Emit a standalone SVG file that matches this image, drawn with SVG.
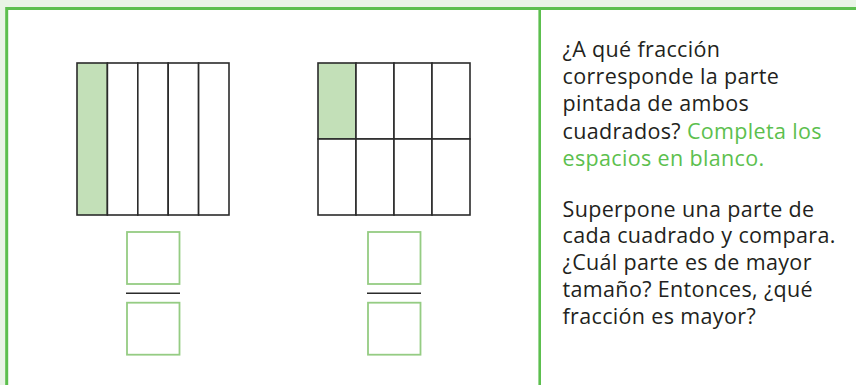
<svg xmlns="http://www.w3.org/2000/svg" width="856" height="385" viewBox="0 0 856 385">
  <style>
    .cell{fill:#ffffff;stroke:#2b2b2b;stroke-width:1.6}
    .shade{fill:#c3e0b8;stroke:#2b2b2b;stroke-width:1.6}
    .box{fill:#ffffff;stroke:#95cc83;stroke-width:1.8}
    .bar{stroke:#2b2b2b;stroke-width:1.6}
    .txt{font-family:"Open Sans","Noto Sans",sans-serif;font-size:21.5px;letter-spacing:0.35px;fill:#231f20}
    .grn{fill:#5cbf4e}
  </style>
  <rect x="0" y="0" width="856" height="385" fill="#e9f4e6"/>
  <rect x="6.7" y="8.5" width="860" height="400" fill="#ffffff" stroke="#5cbf4e" stroke-width="3"/>
  <line x1="539.7" y1="8.5" x2="539.7" y2="385" stroke="#5cbf4e" stroke-width="2.6"/>

  <g id="grid-fifths">
    <rect class="shade" x="77" y="63" width="30.4" height="152"/>
    <rect class="cell" x="107.4" y="63" width="30.4" height="152"/>
    <rect class="cell" x="137.8" y="63" width="30.4" height="152"/>
    <rect class="cell" x="168.2" y="63" width="30.4" height="152"/>
    <rect class="cell" x="198.6" y="63" width="30.4" height="152"/>
  </g>

  <g id="grid-eighths">
    <rect class="shade" x="318" y="63" width="38" height="76"/>
    <rect class="cell" x="356" y="63" width="38" height="76"/>
    <rect class="cell" x="394" y="63" width="38" height="76"/>
    <rect class="cell" x="432" y="63" width="38" height="76"/>
    <rect class="cell" x="318" y="139" width="38" height="76"/>
    <rect class="cell" x="356" y="139" width="38" height="76"/>
    <rect class="cell" x="394" y="139" width="38" height="76"/>
    <rect class="cell" x="432" y="139" width="38" height="76"/>
  </g>

  <g id="fraction-left">
    <rect class="box" x="127" y="232" width="52.5" height="52"/>
    <line class="bar" x1="126" y1="293.3" x2="180" y2="293.3"/>
    <rect class="box" x="127" y="302.7" width="52.5" height="52"/>
  </g>

  <g id="fraction-right">
    <rect class="box" x="368" y="232" width="52.5" height="52"/>
    <line class="bar" x1="367" y1="293.3" x2="421" y2="293.3"/>
    <rect class="box" x="368" y="302.7" width="52.5" height="52"/>
  </g>

  <g id="question-1">
    <text class="txt" x="562.5" y="57">¿A qué fracción</text>
    <text class="txt" x="562.5" y="84.2">corresponde la parte</text>
    <text class="txt" x="562.5" y="111.4">pintada de ambos</text>
    <text class="txt" x="562.5" y="138.6">cuadrados? <tspan class="grn">Completa los</tspan></text>
    <text class="txt grn" x="562.5" y="165.8">espacios en blanco.</text>
  </g>

  <g id="question-2">
    <text class="txt" x="562.5" y="216.7">Superpone una parte de</text>
    <text class="txt" x="562.5" y="243.4">cada cuadrado y compara.</text>
    <text class="txt" x="562.5" y="270.1">¿Cuál parte es de mayor</text>
    <text class="txt" x="562.5" y="296.8">tamaño? Entonces, ¿qué</text>
    <text class="txt" x="562.5" y="323.5">fracción es mayor?</text>
  </g>
</svg>
